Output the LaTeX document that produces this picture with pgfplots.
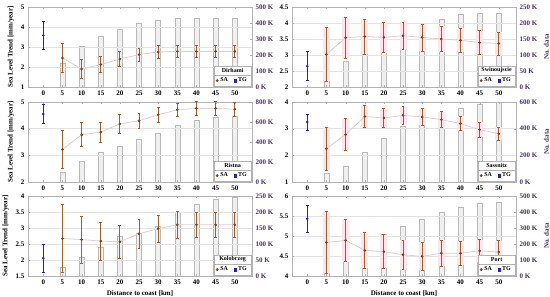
\documentclass[border=0pt]{standalone}
\usepackage{fontspec}
\setmainfont{Liberation Serif}
\usepackage{pgfplots}
\usepackage{pgfplotstable}
\pgfplotsset{compat=1.18}
\usetikzlibrary{calc}

\definecolor{sacol}{RGB}{170,92,35}
\definecolor{tgcol}{RGB}{30,30,225}
\definecolor{ncol}{RGB}{70,50,110}
\definecolor{linkcol}{RGB}{222,205,212}
\definecolor{bandcol}{RGB}{255,228,236}

% columns: distance [km], no. data [K], SA trend, SA error
\pgfplotstableread{
x n sa e
5 146 2.45 0.72
10 254 1.90 0.48
15 320 2.12 0.40
20 362 2.40 0.37
25 396 2.62 0.33
30 417 2.75 0.32
35 427 2.78 0.30
40 431 2.78 0.30
45 429 2.78 0.30
50 429 2.78 0.30
}\dirhami
\pgfplotstableread{
x n sa e
5 47 3.02 0.84
10 80 3.54 0.64
15 105 3.58 0.55
20 137 3.55 0.48
25 150 3.60 0.43
30 180 3.55 0.42
35 213 3.50 0.40
40 228 3.46 0.38
45 231 3.39 0.37
50 232 3.36 0.36
}\swinoujscie
\pgfplotstableread{
x n sa e
5 95 3.22 0.72
10 210 3.77 0.45
15 302 3.87 0.38
20 360 4.18 0.34
25 426 4.30 0.29
30 492 4.52 0.27
35 564 4.71 0.25
40 620 4.76 0.25
45 646 4.76 0.25
50 656 4.73 0.25
}\ristna
\pgfplotstableread{
x n sa e
5 68 2.25 0.80
10 118 2.78 0.60
15 222 3.46 0.42
20 325 3.40 0.36
25 420 3.50 0.33
30 457 3.44 0.32
35 520 3.34 0.30
40 557 3.19 0.27
45 587 2.96 0.28
50 600 2.81 0.25
}\sassnitz
\pgfplotstableread{
x n sa e
5 28 2.67 1.07
10 60 2.64 0.74
15 91 2.59 0.60
20 124 2.57 0.52
25 135 2.82 0.45
30 155 2.98 0.42
35 200 3.10 0.42
40 224 3.10 0.38
45 240 3.10 0.38
50 245 3.10 0.38
}\kolobrzeg
\pgfplotstableread{
x n sa e
5 72 4.84 0.77
10 146 4.89 0.53
15 205 4.64 0.45
20 264 4.61 0.42
25 310 4.53 0.37
30 352 4.49 0.35
35 399 4.57 0.32
40 433 4.57 0.30
45 452 4.63 0.28
50 462 4.60 0.28
}\port

\pgfplotsset{
  panel/.style={width=224pt, height=80pt, scale only axis,
    xmin=-4, xmax=54.5, xtick={0,5,...,50},
    tick label style={font=\fontsize{7}{8}\selectfont\bfseries},
    label style={font=\fontsize{7}{8}\selectfont\bfseries},
    /pgf/number format/assume math mode=true,
    axis line style={gray!60}, tick style={gray!60},
    major tick length=2pt, tick align=inside},
  countax/.style={panel, axis y line*=right, axis x line=none, ymin=0,
    yticklabel={\pgfmathprintnumber{\tick} K},
    yticklabel style={text=ncol}, ylabel style={text=ncol}},
  trendax/.style={panel, ymajorgrids, grid style={gray!22},
    ytick pos=left, xtick pos=both,
    legend columns=2, legend cell align=left,
    legend style={font=\fontsize{6}{7}\selectfont\bfseries, draw=gray!60,
      fill=white, at={(rel axis cs:0.996,0.012)}, anchor=south east,
      inner xsep=2pt, inner ysep=0.5pt, row sep=-1pt,
      /tikz/every even column/.append style={column sep=4pt}}},
  cnt/.style={ybar, bar width=5pt, fill=gray!12, draw=gray!55, line width=0.4pt},
  link/.style={color=linkcol, line width=0.8pt, forget plot},
  band/.style={draw=none, mark=none, forget plot,
    error bars/.cd, y dir=both, y explicit,
    error bar style={draw=bandcol, line width=7pt},
    error mark=none},
  sa/.style={only marks, mark=*, mark size=1.1pt, color=sacol, forget plot,
    mark options={draw=sacol!70!black, fill=sacol!70!black},
    error bars/.cd, y dir=both, y explicit,
    error bar style={draw=sacol, line width=0.9pt},
    error mark options={draw=sacol, rotate=90, mark size=1.4pt, line width=0.6pt}},
  tg/.style={only marks, mark=*, mark size=1.1pt, color=tgcol, forget plot,
    error bars/.cd, y dir=both, y explicit,
    error bar style={draw=tgcol, line width=0.9pt},
    error mark options={draw=tgcol, rotate=90, mark size=1.4pt, line width=0.6pt}},
}
\newcommand{\legtitle}[2]{%
  \path let \p1=($(#1.north east)-(#1.north west)$) in
    node[draw=gray!60, fill=white, anchor=south west, minimum width=\x1,
      minimum height=9pt, inner sep=0.5pt,
      font=\fontsize{6}{7}\selectfont\bfseries] at (#1.north west) {#2};}
\newcommand{\keys}{%
  \addlegendimage{only marks, mark=*, mark size=1.2pt, sacol!70!black}\addlegendentry{SA}
  \addlegendimage{only marks, mark=square*, mark size=1.1pt, tgcol}\addlegendentry{TG}}

\begin{document}
\begin{tikzpicture}
\useasboundingbox (0,0) rectangle (550pt,297pt);

% ---- Dirhami ----
\begin{axis}[countax, at={(28pt,210pt)}, anchor=south west, ymax=500, ytick={0,100,...,500}]
  \addplot[cnt] table[x=x, y=n] {\dirhami};
\end{axis}
\begin{axis}[trendax, at={(28pt,210pt)}, anchor=south west, ymin=1, ymax=5, ytick={1,2,...,5},
  ylabel={Sea Level Trend [mm/year]}, legend style={name=L1}]
  \addplot[link] table[x=x, y=sa] {\dirhami};
  \addplot[sa] table[x=x, y=sa, y error=e] {\dirhami};
  \addplot[tg] coordinates {(0,3.58) +- (0,0.72)};
  \keys
\end{axis}
\legtitle{L1}{Dirhami}

% ---- Swinoujscie ----
\begin{axis}[countax, at={(292pt,210pt)}, anchor=south west, ymax=250, ytick={0,50,...,250},
  ylabel={No. data}]
  \addplot[cnt] table[x=x, y=n] {\swinoujscie};
\end{axis}
\begin{axis}[trendax, at={(292pt,210pt)}, anchor=south west, ymin=2, ymax=4.5, ytick={2,2.5,...,4.5},
  legend style={name=L2}]
  \addplot[band] table[x=x, y=sa, y error=e] {\swinoujscie};
  \addplot[link] table[x=x, y=sa] {\swinoujscie};
  \addplot[sa] table[x=x, y=sa, y error=e] {\swinoujscie};
  \addplot[tg] coordinates {(0,2.65) +- (0,0.45)};
  \keys
\end{axis}
\legtitle{L2}{Swinoujscie}

% ---- Ristna ----
\begin{axis}[countax, at={(28pt,115pt)}, anchor=south west, ymax=800, ytick={0,200,...,800}]
  \addplot[cnt] table[x=x, y=n] {\ristna};
\end{axis}
\begin{axis}[trendax, at={(28pt,115pt)}, anchor=south west, ymin=2, ymax=5, ytick={2,3,4,5},
  ylabel={Sea Level Trend [mm/year]}, legend style={name=L3}]
  \addplot[link] table[x=x, y=sa] {\ristna};
  \addplot[sa] table[x=x, y=sa, y error=e] {\ristna};
  \addplot[tg] coordinates {(0,4.55) +- (0,0.36)};
  \keys
\end{axis}
\legtitle{L3}{Ristna}

% ---- Sassnitz ----
\begin{axis}[countax, at={(292pt,115pt)}, anchor=south west, ymax=600, ytick={0,200,...,600},
  ylabel={No. data}]
  \addplot[cnt] table[x=x, y=n] {\sassnitz};
\end{axis}
\begin{axis}[trendax, at={(292pt,115pt)}, anchor=south west, ymin=1, ymax=4, ytick={1,2,3,4},
  legend style={name=L4}]
  \addplot[band] table[x=x, y=sa, y error=e] {\sassnitz};
  \addplot[link] table[x=x, y=sa] {\sassnitz};
  \addplot[sa] table[x=x, y=sa, y error=e] {\sassnitz};
  \addplot[tg] coordinates {(0,3.25) +- (0,0.30)};
  \keys
\end{axis}
\legtitle{L4}{Sassnitz}

% ---- Kolobrzeg ----
\begin{axis}[countax, at={(28pt,21pt)}, anchor=south west, ymax=250, ytick={0,50,...,250}]
  \addplot[cnt] table[x=x, y=n] {\kolobrzeg};
\end{axis}
\begin{axis}[trendax, at={(28pt,21pt)}, anchor=south west, ymin=1.5, ymax=4, ytick={1.5,2,...,4},
  ylabel={Sea Level Trend [mm/year]}, xlabel={Distance to coast [km]}, legend style={name=L5}]
  \addplot[link] table[x=x, y=sa] {\kolobrzeg};
  \addplot[sa] table[x=x, y=sa, y error=e] {\kolobrzeg};
  \addplot[tg] coordinates {(0,2.06) +- (0,0.44)};
  \keys
\end{axis}
\legtitle{L5}{Kolobrzeg}

% ---- Port ----
\begin{axis}[countax, at={(292pt,21pt)}, anchor=south west, ymax=500, ytick={0,100,...,500},
  ylabel={No. data}]
  \addplot[cnt] table[x=x, y=n] {\port};
\end{axis}
\begin{axis}[trendax, at={(292pt,21pt)}, anchor=south west, ymin=4, ymax=6, ytick={4,4.5,...,6},
  xlabel={Distance to coast [km]}, legend style={name=L6}]
  \addplot[band] table[x=x, y=sa, y error=e] {\port};
  \addplot[link] table[x=x, y=sa] {\port};
  \addplot[sa] table[x=x, y=sa, y error=e] {\port};
  \addplot[tg] coordinates {(0,5.43) +- (0,0.33)};
  \keys
\end{axis}
\legtitle{L6}{Port}
\end{tikzpicture}
\end{document}
